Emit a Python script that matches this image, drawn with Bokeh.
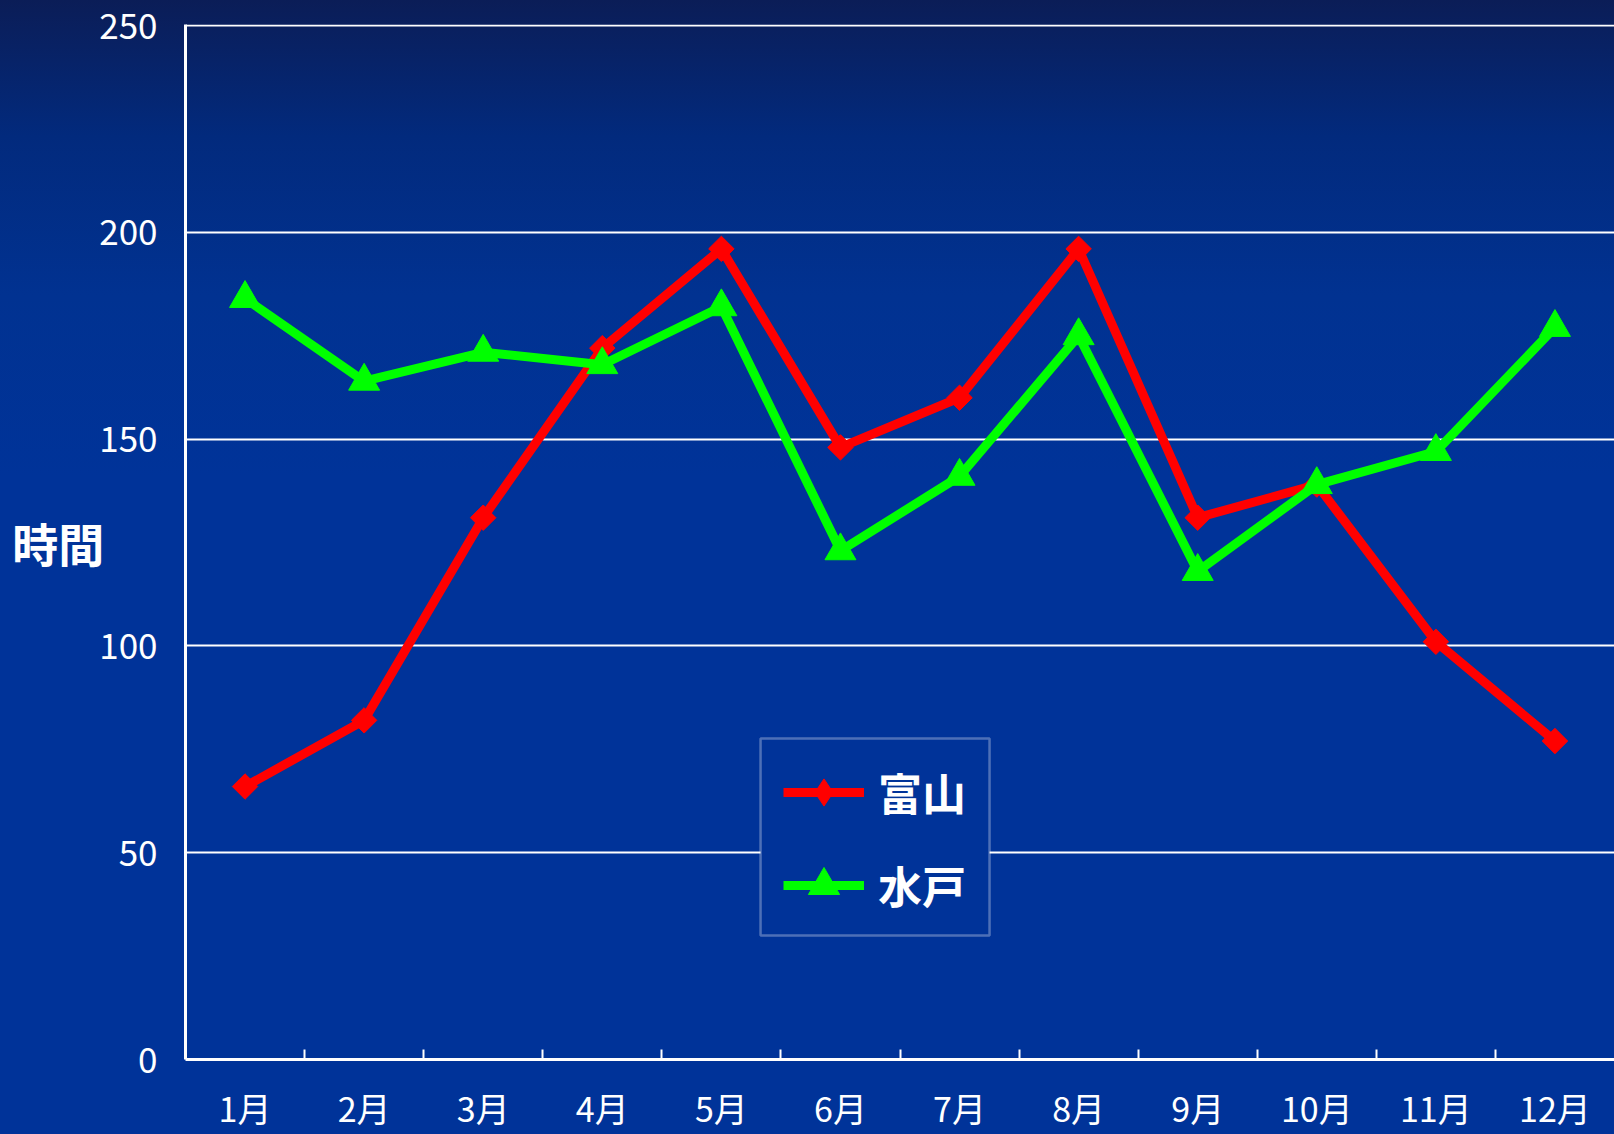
from bokeh.plotting import figure
from bokeh.models import (Range1d, FixedTicker, Legend, LegendItem, BoxAnnotation)
from bokeh.embed import file_html
from bokeh.resources import INLINE
import math

months = ["1月", "2月", "3月", "4月", "5月", "6月", "7月", "8月", "9月", "10月", "11月", "12月"]
toyama = [66, 82, 131, 172, 196, 148, 160, 196, 131, 139, 101, 77]
mito = [184, 164, 171, 168, 182, 123, 141, 175, 118, 139, 147, 177]
y_ticks = [0, 50, 100, 150, 200, 250]
y_label = "時間"
series_names = ["富山", "水戸"]

RED = "#ff0000"
GREEN = "#00ff00"
FONT = "Noto Sans CJK JP"

xs = [i + 0.5 for i in range(len(months))]

p = figure(width=1614, height=1134, output_backend="svg", toolbar_location=None,
           x_range=Range1d(0, len(months)), y_range=Range1d(0, 250.25),
           min_border_left=185, min_border_right=0, min_border_top=24, min_border_bottom=75)

p.styles = {"background-image": "linear-gradient(180deg, #0b1d57 0%, #022a7d 12%, #013291 26%, #003399 42%, #003399 100%)"}
p.background_fill_alpha = 0
p.border_fill_alpha = 0
p.outline_line_color = None

# x axis: labels at category centers, ticks at category boundaries
xa = p.xaxis[0]
xa.ticker = FixedTicker(ticks=xs, minor_ticks=[float(i) for i in range(1, len(months))])
xa.major_label_overrides = {x: m for x, m in zip(xs, months)}
xa.major_tick_line_color = None
xa.minor_tick_in = 10
xa.minor_tick_out = 0
xa.minor_tick_line_color = "white"
xa.minor_tick_line_width = 2
xa.axis_line_color = "white"
xa.axis_line_width = 3
xa.major_label_text_color = "white"
xa.major_label_text_font = FONT
xa.major_label_text_font_size = "34px"
xa.major_label_standoff = 17

ya = p.yaxis[0]
ya.ticker = FixedTicker(ticks=y_ticks)
ya.major_tick_line_color = None
ya.minor_tick_line_color = None
ya.axis_line_color = "white"
ya.axis_line_width = 3
ya.major_label_text_color = "white"
ya.major_label_text_font = FONT
ya.major_label_text_font_size = "35px"
ya.major_label_standoff = 22
ya.axis_label = y_label
ya.axis_label_orientation = "horizontal"
ya.axis_label_standoff = -8
ya.axis_label_text_color = "white"
ya.axis_label_text_font = FONT
ya.axis_label_text_font_style = "bold"
ya.axis_label_text_font_size = "46px"
ya.axis_label_text_baseline = "bottom"

p.xgrid.grid_line_color = None
p.ygrid.ticker = FixedTicker(ticks=y_ticks)
p.ygrid.grid_line_color = "white"
p.ygrid.grid_line_width = 2

l1 = p.line(xs, toyama, line_color=RED, line_width=9)
s1 = p.scatter(xs, toyama, marker="square", size=18, angle=math.pi / 4,
               fill_color=RED, line_color=RED)
l2 = p.line(xs, mito, line_color=GREEN, line_width=9)
s2 = p.scatter(xs, mito, marker="triangle", size=31, fill_color=GREEN, line_color=GREEN)

# legend-only diamond swatch (legend swatches ignore marker angle); hidden in the plot
d_leg = p.scatter(xs, toyama, marker="diamond", fill_color=RED, line_color=RED, visible=False)

# legend frame
p.add_layout(BoxAnnotation(left=4.829, right=6.752, bottom=29.98, top=77.61,
                           fill_color="#003399", fill_alpha=1,
                           line_color="white", line_width=2.5))


def make_legend(item, gh, loc):
    lg = Legend(items=[item], location=loc)
    lg.label_text_font = FONT
    lg.label_text_font_style = "bold"
    lg.label_text_font_size = "44px"
    lg.label_text_color = "white"
    lg.glyph_width = 81
    lg.glyph_height = gh
    lg.label_height = gh
    lg.spacing = 0
    lg.padding = 0
    lg.margin = 0
    lg.label_standoff = 14
    lg.border_line_color = None
    lg.background_fill_alpha = 0
    return lg


p.add_layout(make_legend(LegendItem(label=series_names[0], renderers=[l1, d_leg]), 68, (598, 233)), "center")
p.add_layout(make_legend(LegendItem(label=series_names[1], renderers=[l2, s2]), 78, (598, 135)), "center")

open("out.html", "w").write(file_html(p, INLINE))
